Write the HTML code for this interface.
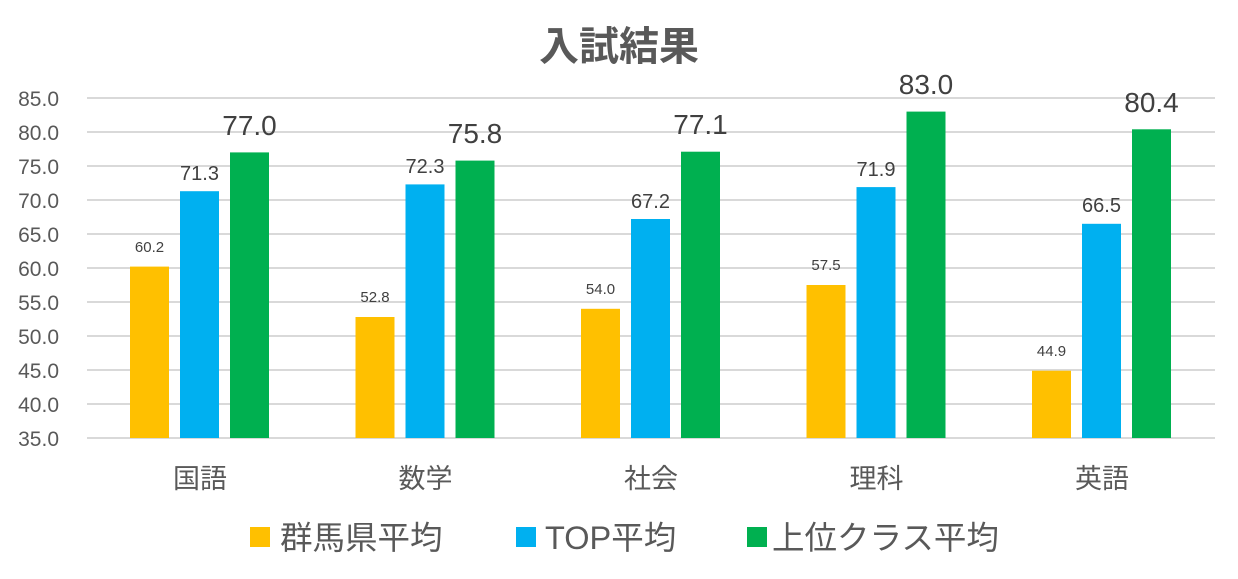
<!DOCTYPE html>
<html><head><meta charset="utf-8"><style>body{margin:0;background:#fff}svg{display:block}text{font-family:"Liberation Sans","Noto Sans CJK JP",sans-serif}</style></head>
<body>
<svg width="1238" height="579" xmlns="http://www.w3.org/2000/svg">
<rect width="1238" height="579" fill="#fff"/>
<text x="619" y="60" font-size="40" font-weight="bold" fill="#595959" text-anchor="middle">入試結果</text>
<g stroke="#d9d9d9" stroke-width="2">
<line x1="87" x2="1215" y1="98" y2="98"/><line x1="87" x2="1215" y1="132" y2="132"/><line x1="87" x2="1215" y1="166" y2="166"/><line x1="87" x2="1215" y1="200" y2="200"/><line x1="87" x2="1215" y1="234" y2="234"/><line x1="87" x2="1215" y1="268" y2="268"/><line x1="87" x2="1215" y1="302" y2="302"/><line x1="87" x2="1215" y1="336" y2="336"/><line x1="87" x2="1215" y1="370" y2="370"/><line x1="87" x2="1215" y1="404" y2="404"/><line x1="87" x2="1215" y1="438" y2="438"/>
</g>
<g font-size="21" fill="#595959" text-anchor="end">
<text x="59" y="106">85.0</text><text x="59" y="140">80.0</text><text x="59" y="174">75.0</text><text x="59" y="208">70.0</text><text x="59" y="242">65.0</text><text x="59" y="276">60.0</text><text x="59" y="310">55.0</text><text x="59" y="344">50.0</text><text x="59" y="378">45.0</text><text x="59" y="412">40.0</text><text x="59" y="446">35.0</text>
</g>
<g>
<rect x="130" y="266.6" width="39" height="171.4" fill="#FFC000"/>
<rect x="180" y="191.2" width="39" height="246.8" fill="#00B0F0"/>
<rect x="230" y="152.4" width="39" height="285.6" fill="#00B050"/>
<rect x="355.5" y="317" width="39" height="121" fill="#FFC000"/>
<rect x="405.5" y="184.4" width="39" height="253.6" fill="#00B0F0"/>
<rect x="455.5" y="160.6" width="39" height="277.4" fill="#00B050"/>
<rect x="581" y="308.8" width="39" height="129.2" fill="#FFC000"/>
<rect x="631" y="219" width="39" height="219" fill="#00B0F0"/>
<rect x="681" y="151.7" width="39" height="286.3" fill="#00B050"/>
<rect x="806.5" y="285" width="39" height="153" fill="#FFC000"/>
<rect x="856.5" y="187.1" width="39" height="250.9" fill="#00B0F0"/>
<rect x="906.5" y="111.6" width="39" height="326.4" fill="#00B050"/>
<rect x="1032" y="370.7" width="39" height="67.3" fill="#FFC000"/>
<rect x="1082" y="223.8" width="39" height="214.2" fill="#00B0F0"/>
<rect x="1132" y="129.3" width="39" height="308.7" fill="#00B050"/>
</g>
<g fill="#404040" text-anchor="middle">
<g font-size="15">
<text x="149.5" y="252">60.2</text><text x="375" y="302">52.8</text><text x="600.5" y="294">54.0</text><text x="826" y="270">57.5</text><text x="1051.5" y="356">44.9</text>
</g>
<g font-size="20">
<text x="199.5" y="180">71.3</text><text x="425" y="173">72.3</text><text x="650.5" y="208">67.2</text><text x="876" y="176">71.9</text><text x="1101.5" y="212">66.5</text>
</g>
<g font-size="28">
<text x="249.5" y="135">77.0</text><text x="475" y="143">75.8</text><text x="700.5" y="134">77.1</text><text x="926" y="94">83.0</text><text x="1151.5" y="112">80.4</text>
</g>
</g>
<g font-size="27" fill="#595959" text-anchor="middle">
<text x="200" y="488">国語</text><text x="425.5" y="488">数学</text><text x="651" y="488">社会</text><text x="876.5" y="488">理科</text><text x="1102" y="488">英語</text>
</g>
<g font-size="32.5" fill="#595959">
<rect x="250" y="527" width="20" height="20" fill="#FFC000"/><text x="280" y="549">群馬県平均</text>
<rect x="516" y="527" width="20" height="20" fill="#00B0F0"/><text x="545" y="549">TOP平均</text>
<rect x="747" y="527" width="20" height="20" fill="#00B050"/><text x="772" y="549">上位クラス平均</text>
</g>
</svg>
</body></html>
